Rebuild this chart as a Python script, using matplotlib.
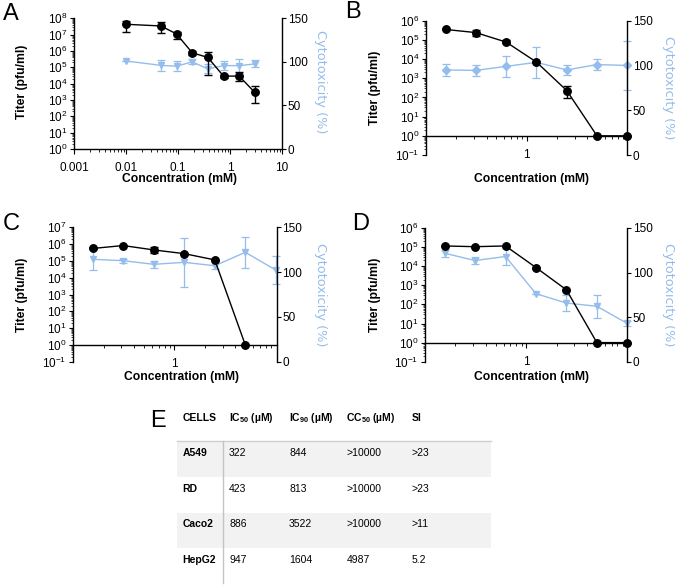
import matplotlib
matplotlib.use('Agg')
import matplotlib.pyplot as plt
import numpy as np
from matplotlib.ticker import LogLocator, FixedLocator, NullFormatter, FixedFormatter
from matplotlib.patches import Rectangle
from matplotlib.lines import Line2D

plt.rcParams['font.family'] = ['Liberation Sans', 'DejaVu Sans']
plt.rcParams['mathtext.default'] = 'regular'

# ---------------- data ----------------
concA = [0.01, 0.046875, 0.09375, 0.1875, 0.375, 0.75, 1.5, 3.0]
titerA = [4.3e7, 3.4e7, 1.1e7, 7.8e5, 4.0e5, 2.9e4, 2.9e4, 2.9e3]
titerA_lo = [1.5e7, 1.2e7, 5.4e6, 6.0e5, 3.3e4, 2.3e4, 1.5e4, 7.0e2]
titerA_hi = [7.0e7, 5.9e7, 1.5e7, 1.0e6, 8.9e5, 3.6e4, 5.2e4, 7.0e3]
cytoA = [101, 96, 95, 100, 92, 95.7, 95.7, 97.6]
cytoA_err = [0, 6, 6, 3, 5, 5, 8, 4]

concB = [0.15625, 0.3125, 0.625, 1.25, 2.5, 5.0, 10.0]
titerB = [3.5e5, 2.4e5, 7.7e4, 7.0e3, 2.3e2, 1, 1]
titerB_lo = [3.5e5, 1.6e5, 6.5e4, 7.0e3, 9.0e1, 1, 1]
titerB_hi = [3.5e5, 3.4e5, 9.5e4, 7.0e3, 4.0e2, 1, 1]
cytoB = [95, 94.5, 99, 103.5, 95, 101, 100]
cytoB_err = [6.5, 6, 12, 17, 6, 6, 27]

concC_titer = [0.15625, 0.3125, 0.625, 1.25, 2.5, 5.0]
titerC = [5.5e5, 8.2e5, 4.5e5, 2.7e5, 1.15e5, 1]
titerC_lo = [5.5e5, 8.2e5, 2.8e5, 2.7e5, 1.15e5, 1]
titerC_hi = [5.5e5, 8.2e5, 7.0e5, 2.7e5, 1.15e5, 1]
concC = [0.15625, 0.3125, 0.625, 1.25, 2.5, 5.0, 10.0]
cytoC = [114.3, 112.7, 108.7, 110.9, 107.1, 122.1, 102.3]
cytoC_err = [12, 2, 4, 27, 4, 17.6, 16]

concD = [0.15625, 0.3125, 0.625, 1.25, 2.5, 5.0, 10.0]
titerD = [1.15e5, 1.05e5, 1.15e5, 8.5e3, 5.8e2, 1, 1]
titerD_lo = titerD
titerD_hi = titerD
cytoD = [121.7, 113.5, 118, 76.3, 65.8, 62.2, 42.9]
cytoD_err = [4, 4, 10, 0, 9, 13, 3]

table_header = ['CELLS', 'IC$_{50}$ (µM)', 'IC$_{90}$ (µM)', 'CC$_{50}$ (µM)', 'SI']
table_cells = ['A549', 'RD', 'Caco2', 'HepG2']
table_ic50 = ['322', '423', '886', '947']
table_ic90 = ['844', '813', '3522', '1604']
table_cc50 = ['>10000', '>10000', '>10000', '4987']
table_si = ['>23', '>23', '>11', '5.2']

# ---------------- figure ----------------
W, H = 675, 586
fig = plt.figure(figsize=(W / 100, H / 100), dpi=100)
BLUE = '#94bdeb'


def fx(x):
    return x / W


def fy(y):
    return 1 - y / H


def rect(l, t, r, b):
    return [fx(l), fy(b), (r - l) / W, (b - t) / H]


def panel(r, ct, ti, lo, hi, cc, cy, ce, ylim, cmarker, cms, xlim, xmaj, xlab, axis_at_one):
    ax = fig.add_axes(r)
    ax.set_xscale('log')
    ax.set_yscale('log')
    ax2 = ax.twinx()
    ax.set_zorder(ax2.get_zorder() + 1)
    ax.patch.set_visible(False)

    ti = np.array(ti, float)
    lo = np.array(lo, float)
    hi = np.array(hi, float)
    eb2 = ax2.errorbar(cc, cy, yerr=ce, color=BLUE, marker=cmarker, ms=cms, lw=1.0,
                       capsize=2.6, elinewidth=0.9, capthick=0.9)
    eb1 = ax.errorbar(ct, ti, yerr=[ti - lo, hi - ti], color='black', marker='o', ms=5.4,
                      lw=1.0, capsize=2.6, elinewidth=1.0, capthick=1.0)
    for eb in (eb1, eb2):
        for ch in eb.get_children():
            ch.set_clip_on(False)

    ax.set_xlim(xlim)
    ax.set_ylim(ylim)
    ax2.set_ylim(0, 150)

    for s in ('top', 'right'):
        ax.spines[s].set_visible(False)
    for s in ('top', 'left', 'bottom'):
        ax2.spines[s].set_visible(False)
    for s in ('left', 'bottom'):
        ax.spines[s].set_linewidth(1.0)
    ax2.spines['right'].set_linewidth(1.0)
    if axis_at_one:
        ax.spines['bottom'].set_position(('data', 1))

    ax.yaxis.set_major_locator(LogLocator(base=10, numticks=20))
    ax.yaxis.set_minor_locator(LogLocator(base=10, subs=np.arange(2, 10), numticks=20))
    ax.yaxis.set_minor_formatter(NullFormatter())
    ax.xaxis.set_major_locator(FixedLocator(xmaj))
    ax.xaxis.set_major_formatter(FixedFormatter(xlab))
    ax.xaxis.set_minor_locator(LogLocator(base=10, subs=np.arange(2, 10), numticks=20))
    ax.xaxis.set_minor_formatter(NullFormatter())

    ax.tick_params(axis='y', which='major', direction='out', length=3, width=0.8,
                   labelsize=8.5, pad=1.5)
    ax.tick_params(axis='y', which='minor', direction='out', length=1.8, width=0.5)
    ax.tick_params(axis='x', which='major', direction='out', length=3.5, width=0.8,
                   labelsize=8.5, pad=6)
    ax.tick_params(axis='x', which='minor', direction='out', length=2, width=0.6)

    ax2.set_yticks([0, 50, 100, 150])
    ax2.tick_params(axis='y', direction='out', length=3, width=0.8, labelsize=8.5, pad=1)
    return ax, ax2


# Panel A
panel(rect(74, 18.3, 282, 149), concA, titerA, titerA_lo, titerA_hi, concA, cytoA, cytoA_err,
      (1, 1e8), 'v', 4.5, (0.001, 10), [0.001, 0.01, 0.1, 1, 10],
      ['0.001', '0.01', '0.1', '1', '10'], False)
# Panel B
panel(rect(426, 20.7, 627.3, 155), concB, titerB, titerB_lo, titerB_hi, concB, cytoB, cytoB_err,
      (0.1, 1e6), 'D', 4.2, (0.1, 10), [1], ['1'], True)
# Panel C
panel(rect(73, 227.3, 276.7, 361.7), concC_titer, titerC, titerC_lo, titerC_hi, concC, cytoC, cytoC_err,
      (0.1, 1e7), 'v', 4.5, (0.1, 10.2), [1], ['1'], True)
# Panel D
panel(rect(425, 228, 627.3, 361.7), concD, titerD, titerD_lo, titerD_hi, concD, cytoD, cytoD_err,
      (0.1, 1e6), 'v', 4.5, (0.1, 10), [1], ['1'], True)

# axis labels
for (x, y) in [(22, 82), (375, 88), (22, 295), (375, 295)]:
    fig.text(fx(x), fy(y), 'Titer (pfu/ml)', rotation=90, ha='center', va='center',
             fontsize=8.7, fontweight='bold')
for (x, y) in [(320, 82), (668, 88), (320, 295), (668, 295)]:
    fig.text(fx(x), fy(y), 'Cytotoxicity (%)', rotation=270, ha='center', va='center',
             fontsize=9.3, color=BLUE, family=['DejaVu Sans'])
for (x, y) in [(180, 179), (532, 179), (181, 376.7), (532, 376.7)]:
    fig.text(fx(x), fy(y), 'Concentration (mM)', ha='center', va='center',
             fontsize=8.7, fontweight='bold')

# panel letters
for (x, y, s) in [(3, 20, 'A'), (345, 18.5, 'B'), (3, 230, 'C'), (352, 229.5, 'D'), (150, 427, 'E')]:
    fig.text(fx(x), fy(y), s, ha='left', va='baseline', fontsize=17)

# ---------------- table E ----------------
fig.add_artist(Rectangle((fx(176.7), fy(476.7)), (490.7 - 176.7) / W, (476.7 - 441.7) / H,
                         transform=fig.transFigure, facecolor='#f2f2f2', edgecolor='none'))
fig.add_artist(Rectangle((fx(176.7), fy(548)), (490.7 - 176.7) / W, (548 - 512.7) / H,
                         transform=fig.transFigure, facecolor='#f2f2f2', edgecolor='none'))
fig.add_artist(Line2D([fx(176.7), fx(490.7)], [fy(441.2), fy(441.2)], transform=fig.transFigure,
                      color='#cfcfcf', lw=1.0))
fig.add_artist(Line2D([fx(223.3), fx(223.3)], [fy(441.2), fy(583)], transform=fig.transFigure,
                      color='#c4c4c4', lw=1.0))

col_x = [182.3, 229, 289, 346.5, 411.7]
for cx, h in zip(col_x, table_header):
    fig.text(fx(cx), fy(418.3), h, ha='left', va='center', fontsize=7.5, fontweight='bold')

row_y = [453, 489, 524, 560]
for i, ry in enumerate(row_y):
    fig.text(fx(col_x[0]), fy(ry), table_cells[i], ha='left', va='center', fontsize=7.5,
             fontweight='bold')
    for cx, col in zip(col_x[1:], [table_ic50, table_ic90, table_cc50, table_si]):
        fig.text(fx(cx), fy(ry), col[i], ha='left', va='center', fontsize=7.5)

fig.savefig('out.png', dpi=100)
